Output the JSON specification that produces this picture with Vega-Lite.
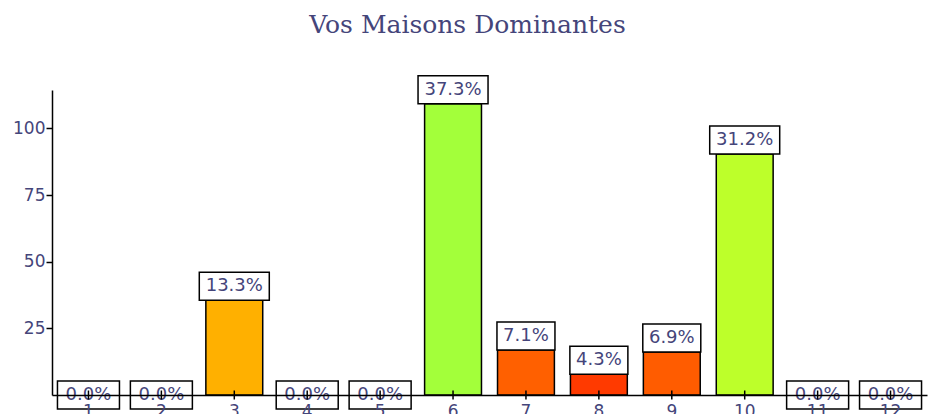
{
  "$schema": "https://vega.github.io/schema/vega-lite/v6.json",
  "autosize": "none",
  "width": 875,
  "height": 305,
  "padding": {"left": 52, "top": 90, "right": 1, "bottom": 19},
  "background": "white",
  "config": {"view": {"stroke": null}},
  "title": {
    "text": "Vos Maisons Dominantes",
    "font": "DejaVu Serif",
    "fontSize": 25,
    "fontWeight": "normal",
    "color": "#45457a",
    "anchor": "middle",
    "baseline": "alphabetic",
    "offset": 15,
    "dx": -22
  },
  "data": {
    "values": [
      {"house": 1, "value": 0, "label": "0.0%"},
      {"house": 2, "value": 0, "label": "0.0%"},
      {"house": 3, "value": 35.5, "label": "13.3%"},
      {"house": 4, "value": 0, "label": "0.0%"},
      {"house": 5, "value": 0, "label": "0.0%"},
      {"house": 6, "value": 109.2, "label": "37.3%"},
      {"house": 7, "value": 16.9, "label": "7.1%"},
      {"house": 8, "value": 7.8, "label": "4.3%"},
      {"house": 9, "value": 16.1, "label": "6.9%"},
      {"house": 10, "value": 90.4, "label": "31.2%"},
      {"house": 11, "value": 0, "label": "0.0%"},
      {"house": 12, "value": 0, "label": "0.0%"}
    ]
  },
  "encoding": {
    "x": {
      "field": "house",
      "type": "ordinal",
      "scale": {"paddingInner": 0.22, "paddingOuter": 0.11},
      "axis": {
        "title": null,
        "labelAngle": 0,
        "labelFont": "DejaVu Sans",
        "labelFontSize": 17,
        "labelColor": "#45457a",
        "labelPadding": 8,
        "ticks": false,
        "domainColor": "black",
        "domainWidth": 1.5,
        "zindex": 1
      }
    },
    "y": {
      "field": "value",
      "type": "quantitative",
      "scale": {"domain": [0, 114.4], "nice": false, "zero": true},
      "axis": {
        "title": null,
        "values": [25, 50, 75, 100],
        "grid": false,
        "labelFont": "DejaVu Sans",
        "labelFontSize": 17,
        "labelColor": "#45457a",
        "labelPadding": 1,
        "tickColor": "black",
        "tickSize": 6,
        "tickWidth": 1.5,
        "domainColor": "black",
        "domainWidth": 1.5
      }
    }
  },
  "layer": [
    {
      "mark": {"type": "bar", "stroke": "black", "strokeWidth": 1.5, "opacity": 1},
      "encoding": {
        "color": {
          "field": "house",
          "type": "nominal",
          "legend": null,
          "scale": {
            "domain": [1, 2, 3, 4, 5, 6, 7, 8, 9, 10, 11, 12],
            "range": ["#ffffff", "#ffffff", "#ffb000", "#ffffff", "#ffffff", "#a3ff3a", "#ff6000", "#ff3a00", "#ff5c00", "#bdff2a", "#ffffff", "#ffffff"]
          }
        }
      }
    },
    {
      "transform": [{"filter": "datum.value > 0"}],
      "mark": {"type": "point", "filled": true, "fill": "white", "stroke": "black", "strokeWidth": 1.5, "opacity": 1, "size": 4},
      "encoding": {
        "shape": {
          "condition": {"test": "length(datum.label) > 4", "value": "M-35,-28L35,-28L35,0L-35,0Z"},
          "value": "M-29,-28L29,-28L29,0L-29,0Z"
        }
      }
    },
    {
      "transform": [{"filter": "datum.value == 0"}],
      "mark": {"type": "point", "filled": true, "fill": "white", "stroke": "black", "strokeWidth": 1.5, "opacity": 1, "size": 4, "shape": "M-31,-14L31,-14L31,14L-31,14Z"},
      "encoding": {}
    },
    {
      "transform": [{"filter": "datum.value > 0"}],
      "mark": {"type": "text", "font": "DejaVu Sans", "fontSize": 18, "color": "#45457a", "baseline": "middle", "dy": -14},
      "encoding": {"text": {"field": "label"}}
    },
    {
      "transform": [{"filter": "datum.value == 0"}],
      "mark": {"type": "text", "font": "DejaVu Sans", "fontSize": 18, "color": "#45457a", "baseline": "middle", "dy": 0},
      "encoding": {"text": {"field": "label"}}
    },
    {
      "mark": {"type": "tick", "orient": "vertical", "color": "black", "size": 9, "thickness": 1.5, "opacity": 1},
      "encoding": {"y": {"datum": 0, "type": "quantitative"}}
    }
  ]
}
